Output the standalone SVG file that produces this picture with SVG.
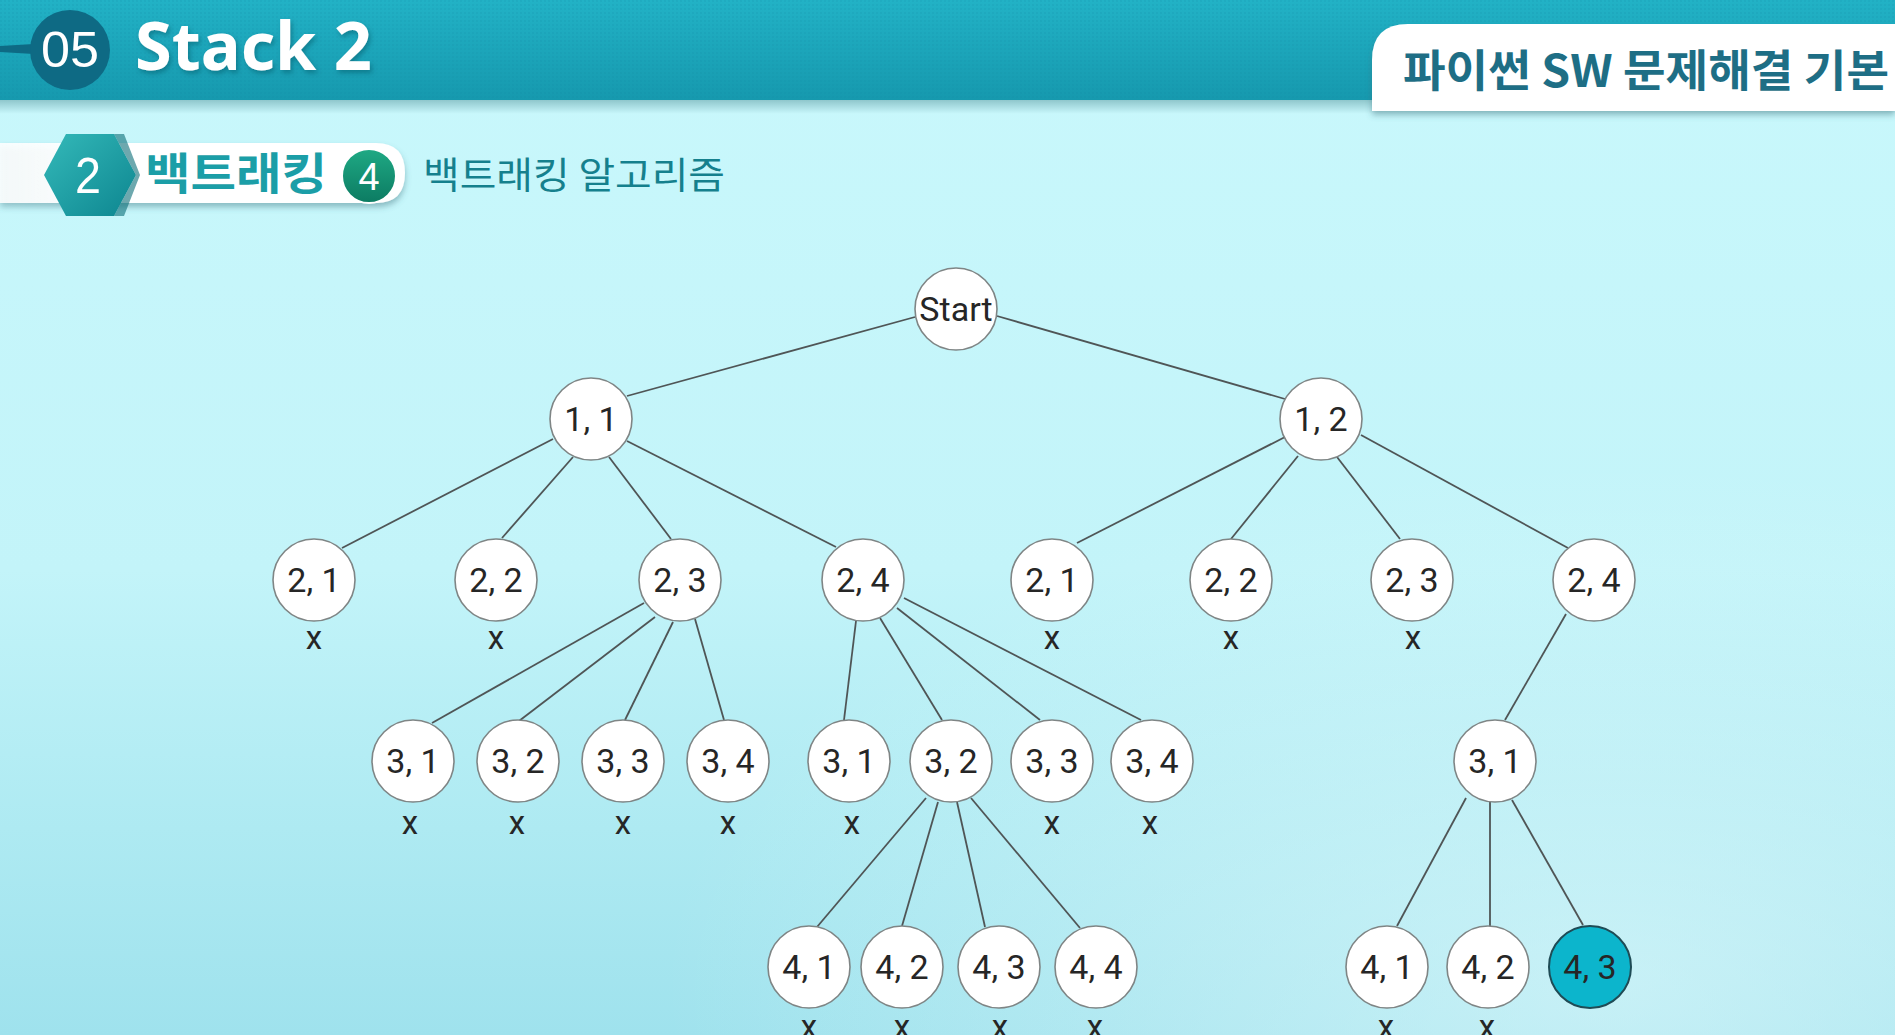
<svg xmlns="http://www.w3.org/2000/svg" width="1895" height="1035" viewBox="0 0 1895 1035">
<defs>
  <linearGradient id="bg" x1="0" y1="0" x2="0" y2="1">
    <stop offset="0" stop-color="#c9f8fc"/>
    <stop offset="0.55" stop-color="#c3f4f9"/>
    <stop offset="0.8" stop-color="#aeeaf2"/>
    <stop offset="1" stop-color="#9fe2ed"/>
  </linearGradient>
  <radialGradient id="cubes" cx="0.85" cy="0.95" r="0.5">
    <stop offset="0" stop-color="#e6fbfd" stop-opacity="0.55"/>
    <stop offset="1" stop-color="#e6fbfd" stop-opacity="0"/>
  </radialGradient>
  <linearGradient id="hdr" x1="0" y1="0" x2="0" y2="1">
    <stop offset="0" stop-color="#22b2c6"/>
    <stop offset="1" stop-color="#1699ae"/>
  </linearGradient>
  <pattern id="dots" width="4" height="4" patternUnits="userSpaceOnUse">
    <circle cx="1" cy="1" r="0.8" fill="#0d8aa0" opacity="0.35"/>
  </pattern>
  <linearGradient id="hdrShadow" x1="0" y1="0" x2="0" y2="1">
    <stop offset="0" stop-color="#8fc7cc"/>
    <stop offset="1" stop-color="#c9f8fc"/>
  </linearGradient>
  <linearGradient id="hex" x1="0" y1="0" x2="1" y2="1">
    <stop offset="0" stop-color="#34b9b9"/>
    <stop offset="1" stop-color="#0d8690"/>
  </linearGradient>
  <linearGradient id="green" x1="0" y1="0" x2="0" y2="1">
    <stop offset="0" stop-color="#1fa984"/>
    <stop offset="1" stop-color="#0c7b62"/>
  </linearGradient>
  <linearGradient id="band" x1="0" y1="0" x2="1" y2="0">
    <stop offset="0" stop-color="#ffffff" stop-opacity="0.85"/>
    <stop offset="0.3" stop-color="#ffffff"/>
    <stop offset="1" stop-color="#ffffff"/>
  </linearGradient>
  <filter id="sh" x="-10%" y="-20%" width="120%" height="160%">
    <feDropShadow dx="2" dy="3" stdDeviation="2.5" flood-color="#0a4f5e" flood-opacity="0.45"/>
  </filter>
  <filter id="sh2" x="-10%" y="-20%" width="120%" height="160%">
    <feDropShadow dx="0" dy="4" stdDeviation="3" flood-color="#3a6f78" flood-opacity="0.45"/>
  </filter>
</defs>
<style>
  .edge { stroke: #4f5556; stroke-width: 1.8; fill: none; }
  .node circle { fill: #ffffff; stroke: #7f8585; stroke-width: 1.6; }
  .node text { font-family: Roboto, "Liberation Sans", sans-serif; font-size: 34px; fill: #262626; text-anchor: middle; }
  .node.hl circle { fill: #0cb5cc; stroke: #1f4b55; stroke-width: 2; }
  .mark { font-family: Roboto, "Liberation Sans", sans-serif; font-size: 33px; fill: #262626; text-anchor: middle; }
</style>

<!-- background -->
<rect x="0" y="0" width="1895" height="1035" fill="url(#bg)"/>
<rect x="0" y="0" width="1895" height="1035" fill="url(#cubes)"/>

<!-- header bar -->
<rect x="0" y="100" width="1895" height="14" fill="url(#hdrShadow)"/>
<rect x="0" y="0" width="1895" height="100" fill="url(#hdr)"/>
<rect x="0" y="0" width="1895" height="100" fill="url(#dots)"/>
<path d="M0,46 L34,44 L34,54 L0,52 Z" fill="#0e6a84"/>
<circle cx="70" cy="50" r="40" fill="#0e6a84"/>
<text x="70" y="67" font-family="'Liberation Sans', sans-serif" font-size="50" fill="#ffffff" text-anchor="middle" textLength="58" lengthAdjust="spacingAndGlyphs">05</text>
<text x="135" y="70" font-family="'Noto Sans', 'Liberation Sans', sans-serif" font-weight="bold" font-size="66" fill="#ffffff" filter="url(#sh)" textLength="237" lengthAdjust="spacingAndGlyphs">Stack 2</text>

<!-- right tab -->
<path d="M1372,111 L1372,60 Q1372,24 1408,24 L1895,24 L1895,111 Z" fill="#ffffff" filter="url(#sh2)"/>
<text x="1403" y="87" font-family="'Noto Sans CJK KR', 'Noto Sans', sans-serif" font-weight="bold" font-size="44" fill="#1e6e85" textLength="486" lengthAdjust="spacingAndGlyphs">파이썬 SW 문제해결 기본</text>

<!-- section title -->
<path d="M0,143 L376,143 Q405,143 405,173 Q405,203 376,203 L0,203 Z" fill="url(#band)" filter="url(#sh2)"/>
<polygon points="44,175 66,134 114,134 136,175 114,216 66,216" fill="url(#hex)"/>
<polygon points="114,134 136,175 114,216 124,216 140,175 124,134" fill="#0b6e78" opacity="0.6"/>
<text x="88" y="193" font-family="'Liberation Sans', sans-serif" font-size="50" fill="#ffffff" text-anchor="middle" textLength="26" lengthAdjust="spacingAndGlyphs">2</text>
<text x="145" y="190" font-family="'Noto Sans CJK KR', sans-serif" font-weight="bold" font-size="44" fill="#1b9ea7" textLength="182" lengthAdjust="spacingAndGlyphs">백트래킹</text>
<circle cx="369" cy="176" r="27" fill="url(#green)" stroke="#ffffff" stroke-width="2"/>
<text x="369" y="190" font-family="'Liberation Sans', sans-serif" font-size="38" fill="#ffffff" text-anchor="middle">4</text>
<text x="423" y="189" font-family="'Noto Sans CJK KR', sans-serif" font-size="37" fill="#15808d" textLength="302" lengthAdjust="spacingAndGlyphs">백트래킹 알고리즘</text>

<!-- connectors -->
<g id="connectors">
  <line class="edge" x1="915" y1="317" x2="627" y2="396"/>
  <line class="edge" x1="997" y1="316" x2="1285" y2="399"/>
  <line class="edge" x1="553" y1="439" x2="342" y2="548"/>
  <line class="edge" x1="573" y1="457" x2="502" y2="538"/>
  <line class="edge" x1="609" y1="457" x2="671" y2="539"/>
  <line class="edge" x1="627" y1="441" x2="836" y2="547"/>
  <line class="edge" x1="1285" y1="437" x2="1077" y2="543"/>
  <line class="edge" x1="1298" y1="456" x2="1231" y2="539"/>
  <line class="edge" x1="1337" y1="457" x2="1400" y2="539"/>
  <line class="edge" x1="1361" y1="435" x2="1568" y2="548"/>
  <line class="edge" x1="644" y1="603" x2="432" y2="723"/>
  <line class="edge" x1="655" y1="617" x2="519" y2="721"/>
  <line class="edge" x1="673" y1="622" x2="625" y2="720"/>
  <line class="edge" x1="695" y1="619" x2="724" y2="720"/>
  <line class="edge" x1="856" y1="621" x2="844" y2="720"/>
  <line class="edge" x1="880" y1="618" x2="942" y2="720"/>
  <line class="edge" x1="897" y1="608" x2="1040" y2="720"/>
  <line class="edge" x1="904" y1="598" x2="1141" y2="720"/>
  <line class="edge" x1="1566" y1="614" x2="1505" y2="720"/>
  <line class="edge" x1="926" y1="798" x2="817" y2="927"/>
  <line class="edge" x1="938" y1="802" x2="902" y2="926"/>
  <line class="edge" x1="957" y1="802" x2="985" y2="927"/>
  <line class="edge" x1="971" y1="798" x2="1080" y2="928"/>
  <line class="edge" x1="1466" y1="798" x2="1397" y2="926"/>
  <line class="edge" x1="1490" y1="802" x2="1490" y2="926"/>
  <line class="edge" x1="1512" y1="800" x2="1583" y2="925"/>
</g>

<!-- nodes -->
<g id="n-start" class="node"><circle cx="956" cy="309" r="41"/><text x="956" y="321" font-size="33">Start</text></g>
<g id="n-1-1" class="node"><circle cx="591" cy="419" r="41"/><text x="591" y="431">1, 1</text></g>
<g id="n-1-2" class="node"><circle cx="1321" cy="419" r="41"/><text x="1321" y="431">1, 2</text></g>

<g id="n-a-2-1" class="node"><circle cx="314" cy="580" r="41"/><text x="314" y="592">2, 1</text></g>
<g id="n-a-2-2" class="node"><circle cx="496" cy="580" r="41"/><text x="496" y="592">2, 2</text></g>
<g id="n-a-2-3" class="node"><circle cx="680" cy="580" r="41"/><text x="680" y="592">2, 3</text></g>
<g id="n-a-2-4" class="node"><circle cx="863" cy="580" r="41"/><text x="863" y="592">2, 4</text></g>
<g id="n-b-2-1" class="node"><circle cx="1052" cy="580" r="41"/><text x="1052" y="592">2, 1</text></g>
<g id="n-b-2-2" class="node"><circle cx="1231" cy="580" r="41"/><text x="1231" y="592">2, 2</text></g>
<g id="n-b-2-3" class="node"><circle cx="1412" cy="580" r="41"/><text x="1412" y="592">2, 3</text></g>
<g id="n-b-2-4" class="node"><circle cx="1594" cy="580" r="41"/><text x="1594" y="592">2, 4</text></g>

<g id="n-a-3-1" class="node"><circle cx="413" cy="761" r="41"/><text x="413" y="773">3, 1</text></g>
<g id="n-a-3-2" class="node"><circle cx="518" cy="761" r="41"/><text x="518" y="773">3, 2</text></g>
<g id="n-a-3-3" class="node"><circle cx="623" cy="761" r="41"/><text x="623" y="773">3, 3</text></g>
<g id="n-a-3-4" class="node"><circle cx="728" cy="761" r="41"/><text x="728" y="773">3, 4</text></g>
<g id="n-b-3-1" class="node"><circle cx="849" cy="761" r="41"/><text x="849" y="773">3, 1</text></g>
<g id="n-b-3-2" class="node"><circle cx="951" cy="761" r="41"/><text x="951" y="773">3, 2</text></g>
<g id="n-b-3-3" class="node"><circle cx="1052" cy="761" r="41"/><text x="1052" y="773">3, 3</text></g>
<g id="n-b-3-4" class="node"><circle cx="1152" cy="761" r="41"/><text x="1152" y="773">3, 4</text></g>
<g id="n-c-3-1" class="node"><circle cx="1495" cy="761" r="41"/><text x="1495" y="773">3, 1</text></g>

<g id="n-b-4-1" class="node"><circle cx="809" cy="967" r="41"/><text x="809" y="979">4, 1</text></g>
<g id="n-b-4-2" class="node"><circle cx="902" cy="967" r="41"/><text x="902" y="979">4, 2</text></g>
<g id="n-b-4-3" class="node"><circle cx="999" cy="967" r="41"/><text x="999" y="979">4, 3</text></g>
<g id="n-b-4-4" class="node"><circle cx="1096" cy="967" r="41"/><text x="1096" y="979">4, 4</text></g>
<g id="n-c-4-1" class="node"><circle cx="1387" cy="967" r="41"/><text x="1387" y="979">4, 1</text></g>
<g id="n-c-4-2" class="node"><circle cx="1488" cy="967" r="41"/><text x="1488" y="979">4, 2</text></g>
<g id="n-c-4-3" class="node hl"><circle cx="1590" cy="967" r="41"/><text x="1590" y="979">4, 3</text></g>

<!-- pruned marks -->
<g id="marks">
  <text class="mark" x="314" y="649">x</text>
  <text class="mark" x="496" y="649">x</text>
  <text class="mark" x="1052" y="649">x</text>
  <text class="mark" x="1231" y="649">x</text>
  <text class="mark" x="1413" y="649">x</text>
  <text class="mark" x="410" y="834">x</text>
  <text class="mark" x="517" y="834">x</text>
  <text class="mark" x="623" y="834">x</text>
  <text class="mark" x="728" y="834">x</text>
  <text class="mark" x="852" y="834">x</text>
  <text class="mark" x="1052" y="834">x</text>
  <text class="mark" x="1150" y="834">x</text>
  <text class="mark" x="809" y="1038">x</text>
  <text class="mark" x="902" y="1038">x</text>
  <text class="mark" x="1000" y="1038">x</text>
  <text class="mark" x="1095" y="1038">x</text>
  <text class="mark" x="1386" y="1038">x</text>
  <text class="mark" x="1487" y="1038">x</text>
</g>
</svg>
